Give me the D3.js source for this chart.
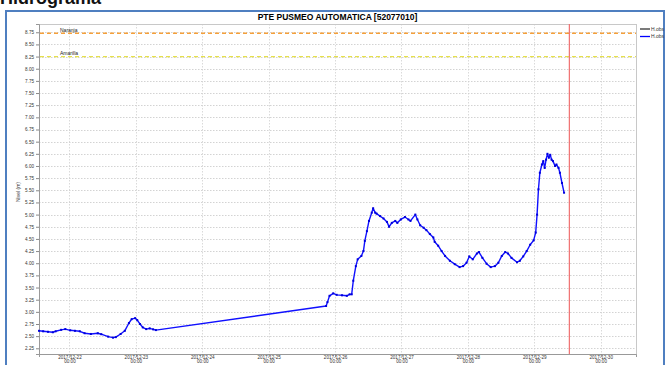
<!DOCTYPE html>
<html>
<head>
<meta charset="utf-8">
<script src="https://cdn.jsdelivr.net/npm/d3@7/dist/d3.min.js"></script>
<style>
  html, body { margin: 0; padding: 0; background: #fff; }
  svg { display: block; font-family: "Liberation Sans", Arial, sans-serif; }
</style>
</head>
<body>
<svg id="chart" width="666" height="365"></svg>
<script>
// Observed level, station PTE PUSMEO AUTOMATICA [52077010]
const times = [
  "2017-12-21 13:00","2017-12-21 14:30","2017-12-21 16:15","2017-12-21 18:00","2017-12-21 19:00",
  "2017-12-21 21:00","2017-12-21 22:30","2017-12-22 00:15","2017-12-22 02:00","2017-12-22 03:45",
  "2017-12-22 05:30","2017-12-22 07:45","2017-12-22 10:15","2017-12-22 11:30","2017-12-22 14:00",
  "2017-12-22 15:45","2017-12-22 16:45","2017-12-22 18:30","2017-12-22 20:00","2017-12-22 21:30",
  "2017-12-22 22:30","2017-12-22 23:45","2017-12-23 00:30","2017-12-23 01:30","2017-12-23 02:30",
  "2017-12-23 03:45","2017-12-23 05:00","2017-12-23 06:15","2017-12-23 07:15",
  "2017-12-25 20:45","2017-12-25 21:15","2017-12-25 22:00","2017-12-25 23:20","2017-12-26 00:35",
  "2017-12-26 02:30","2017-12-26 04:15","2017-12-26 05:15","2017-12-26 06:00","2017-12-26 06:35",
  "2017-12-26 07:30","2017-12-26 08:10","2017-12-26 09:30","2017-12-26 10:15","2017-12-26 10:45",
  "2017-12-26 11:30","2017-12-26 12:15","2017-12-26 13:15","2017-12-26 13:45","2017-12-26 14:30",
  "2017-12-26 15:00","2017-12-26 16:15","2017-12-26 17:30","2017-12-26 18:45","2017-12-26 19:30",
  "2017-12-26 20:30","2017-12-26 21:45","2017-12-26 22:30","2017-12-26 23:45","2017-12-27 01:15",
  "2017-12-27 02:30","2017-12-27 03:15","2017-12-27 05:00","2017-12-27 05:45","2017-12-27 06:45",
  "2017-12-27 08:00","2017-12-27 09:00","2017-12-27 10:15","2017-12-27 11:30","2017-12-27 12:00",
  "2017-12-27 13:15","2017-12-27 14:30","2017-12-27 15:45","2017-12-27 17:30","2017-12-27 19:15",
  "2017-12-27 21:00","2017-12-27 22:15","2017-12-27 23:30","2017-12-28 00:30","2017-12-28 01:45",
  "2017-12-28 03:15","2017-12-28 04:00","2017-12-28 05:15","2017-12-28 06:45","2017-12-28 08:15",
  "2017-12-28 09:45","2017-12-28 11:00","2017-12-28 12:15","2017-12-28 13:30","2017-12-28 14:30",
  "2017-12-28 15:45","2017-12-28 17:45","2017-12-28 18:45","2017-12-28 20:00","2017-12-28 21:15",
  "2017-12-28 22:30","2017-12-28 23:45","2017-12-29 00:30","2017-12-29 01:00","2017-12-29 01:30",
  "2017-12-29 02:00","2017-12-29 02:45","2017-12-29 03:15","2017-12-29 03:45","2017-12-29 04:15",
  "2017-12-29 04:45","2017-12-29 05:15","2017-12-29 05:45","2017-12-29 06:15","2017-12-29 06:45",
  "2017-12-29 07:30","2017-12-29 08:00","2017-12-29 08:45","2017-12-29 09:15","2017-12-29 10:00",
  "2017-12-29 10:45"
];
const levels = [
  2.61, 2.60, 2.59, 2.58, 2.60,
  2.63, 2.645, 2.62, 2.61, 2.60,
  2.56, 2.545, 2.56, 2.54, 2.49,
  2.47, 2.48, 2.545, 2.61, 2.77,
  2.85, 2.87, 2.83, 2.75, 2.68,
  2.645, 2.66, 2.64, 2.625,
  3.12, 3.20, 3.33, 3.38, 3.35,
  3.34, 3.33, 3.36, 3.36, 3.64,
  3.94, 4.08, 4.15, 4.25, 4.46,
  4.66, 4.87, 5.04, 5.13, 5.04,
  5.02, 4.97, 4.92, 4.85, 4.75,
  4.83, 4.87, 4.83, 4.90, 4.95,
  4.90, 4.87, 5.00, 4.90, 4.78,
  4.73, 4.68, 4.60, 4.53, 4.44,
  4.36, 4.25, 4.15, 4.05, 3.98,
  3.92, 3.94, 4.01, 4.14, 4.08,
  4.20, 4.23, 4.11, 3.99, 3.92,
  3.94, 4.01, 4.15, 4.23, 4.20,
  4.11, 4.02, 4.05, 4.14, 4.25,
  4.38, 4.47, 4.63, 5.00, 5.52,
  5.86, 6.03, 6.10, 5.96, 6.13,
  6.25, 6.17, 6.23, 6.13, 6.10,
  6.00, 6.03, 5.96, 5.86, 5.65,
  5.45
];

// Alert thresholds
const thresholdNames = ["Naranja", "Amarilla"];
const thresholdValues = [8.73, 8.25];
const thresholdColors = ["#f5a03a", "#e6e04a"];

// Current-time marker
const nowTime = "2017-12-29 12:40";

// Axis extents and ticks
const xStart = "2017-12-21 13:00";
const xEnd = "2017-12-30 12:45";
const yMin = 2.133, yMax = 8.92;
const yTicks = d3.range(2.25, 8.76, 0.25);

const legendLabels = ["H.obs", "H.obs"];
const legendColors = ["#333333", "#0000ff"];

const parse = d3.timeParse("%Y-%m-%d %H:%M");
const data = times.map((t, i) => ({ t: parse(t), v: levels[i] }));

const svg = d3.select("#chart");
const m = { left: 39, top: 24, right: 636, bottom: 354 };

// Page heading, scrolled mostly above the view, and the blue frame
svg.append("text").attr("x", 0).attr("y", 4)
  .attr("font-size", 18).attr("font-weight", "bold").attr("fill", "#111")
  .text("Hidrograma");
svg.append("rect").attr("x", 6).attr("y", 11).attr("width", 658).attr("height", 370)
  .attr("fill", "none").attr("stroke", "#4f7fc0").attr("stroke-width", 2);

const x = d3.scaleTime().domain([parse(xStart), parse(xEnd)]).range([m.left, m.right]);
const y = d3.scaleLinear().domain([yMin, yMax]).range([m.bottom, m.top]);

// Title
svg.append("text").attr("x", (m.left + m.right) / 2).attr("y", 20)
  .attr("text-anchor", "middle").attr("font-size", 8.5).attr("font-weight", "bold")
  .attr("fill", "#000").text("PTE PUSMEO AUTOMATICA [52077010]");

// Grid
const dayTicks = d3.timeDay.range(d3.timeDay.ceil(parse(xStart)), parse(xEnd));
svg.append("g").selectAll("line").data(yTicks).join("line")
  .attr("x1", m.left).attr("x2", m.right)
  .attr("y1", d => Math.round(y(d)) + 0.5).attr("y2", d => Math.round(y(d)) + 0.5)
  .attr("stroke", "#c8c8c8").attr("stroke-width", 0.8).attr("stroke-dasharray", "1.5,1.5");
svg.append("g").selectAll("line").data(dayTicks).join("line")
  .attr("x1", d => Math.round(x(d)) + 0.5).attr("x2", d => Math.round(x(d)) + 0.5)
  .attr("y1", m.top).attr("y2", m.bottom)
  .attr("stroke", "#d0d0d0").attr("stroke-width", 0.8).attr("stroke-dasharray", "1.5,1.5");

// Plot border
svg.append("rect").attr("x", m.left + 0.5).attr("y", m.top + 0.5)
  .attr("width", m.right - m.left).attr("height", m.bottom - m.top)
  .attr("fill", "none").attr("stroke", "#c8c8c8").attr("stroke-width", 1);

// Axes
const yAxis = svg.append("g").attr("transform", `translate(${m.left},0)`)
  .call(d3.axisLeft(y).tickValues(yTicks).tickFormat(d3.format(".2f")).tickSize(3).tickPadding(2));
yAxis.select(".domain").attr("stroke", "#999");
yAxis.selectAll(".tick line").attr("stroke", "#888");
yAxis.selectAll("text").attr("font-size", 4.6).attr("fill", "#333");

const xAxis = svg.append("g").attr("transform", `translate(0,${m.bottom})`)
  .call(d3.axisBottom(x).tickValues(dayTicks).tickFormat("").tickSize(3));
xAxis.select(".domain").attr("stroke", "#999");
xAxis.selectAll(".tick line").attr("stroke", "#888");
const fmtDate = d3.timeFormat("%Y-%m-%d");
const fmtHour = d3.timeFormat("%H:%M");
const xl = xAxis.selectAll(".tick").append("text")
  .attr("fill", "#333").attr("font-size", 4.6).attr("text-anchor", "middle");
xl.append("tspan").attr("x", 0).attr("y", 4.6).text(d => fmtDate(d));
xl.append("tspan").attr("x", 0).attr("y", 9.4).text(d => fmtHour(d));

// Y label
svg.append("text").attr("transform", `translate(20,${(m.top + m.bottom) / 2 + 3}) rotate(-90)`)
  .attr("text-anchor", "middle").attr("font-size", 5).attr("fill", "#333").text("Nivel (m)");

// Thresholds
thresholdValues.forEach((v, i) => {
  svg.append("line").attr("x1", m.left + 1).attr("x2", m.right)
    .attr("y1", y(v)).attr("y2", y(v))
    .attr("stroke", thresholdColors[i]).attr("stroke-width", 1.3).attr("stroke-dasharray", "4,3");
  svg.append("text").attr("x", 60).attr("y", y(v) - 1.5)
    .attr("font-size", 5).attr("fill", "#222").text(thresholdNames[i]);
});

// Now marker
svg.append("line").attr("x1", x(parse(nowTime))).attr("x2", x(parse(nowTime)))
  .attr("y1", m.top).attr("y2", m.bottom)
  .attr("stroke", "#f07070").attr("stroke-width", 1.2);

// Series
const line = d3.line().x(d => x(d.t)).y(d => y(d.v));
svg.append("path").datum(data).attr("d", line)
  .attr("fill", "none").attr("stroke", "#1010ff").attr("stroke-width", 1.4)
  .attr("stroke-linejoin", "round");
svg.append("g").selectAll("rect").data(data).join("rect")
  .attr("x", d => x(d.t) - 1).attr("y", d => y(d.v) - 1)
  .attr("width", 2).attr("height", 2).attr("fill", "#0000dd");

// Legend
legendLabels.forEach((lab, i) => {
  const ly = 29 + i * 7.5;
  svg.append("line").attr("x1", 640).attr("x2", 650).attr("y1", ly).attr("y2", ly)
    .attr("stroke", legendColors[i]).attr("stroke-width", 1.3);
  svg.append("text").attr("x", 651).attr("y", ly + 1.7)
    .attr("font-size", 5).attr("fill", "#333").text(lab);
});
</script>
</body>
</html>
